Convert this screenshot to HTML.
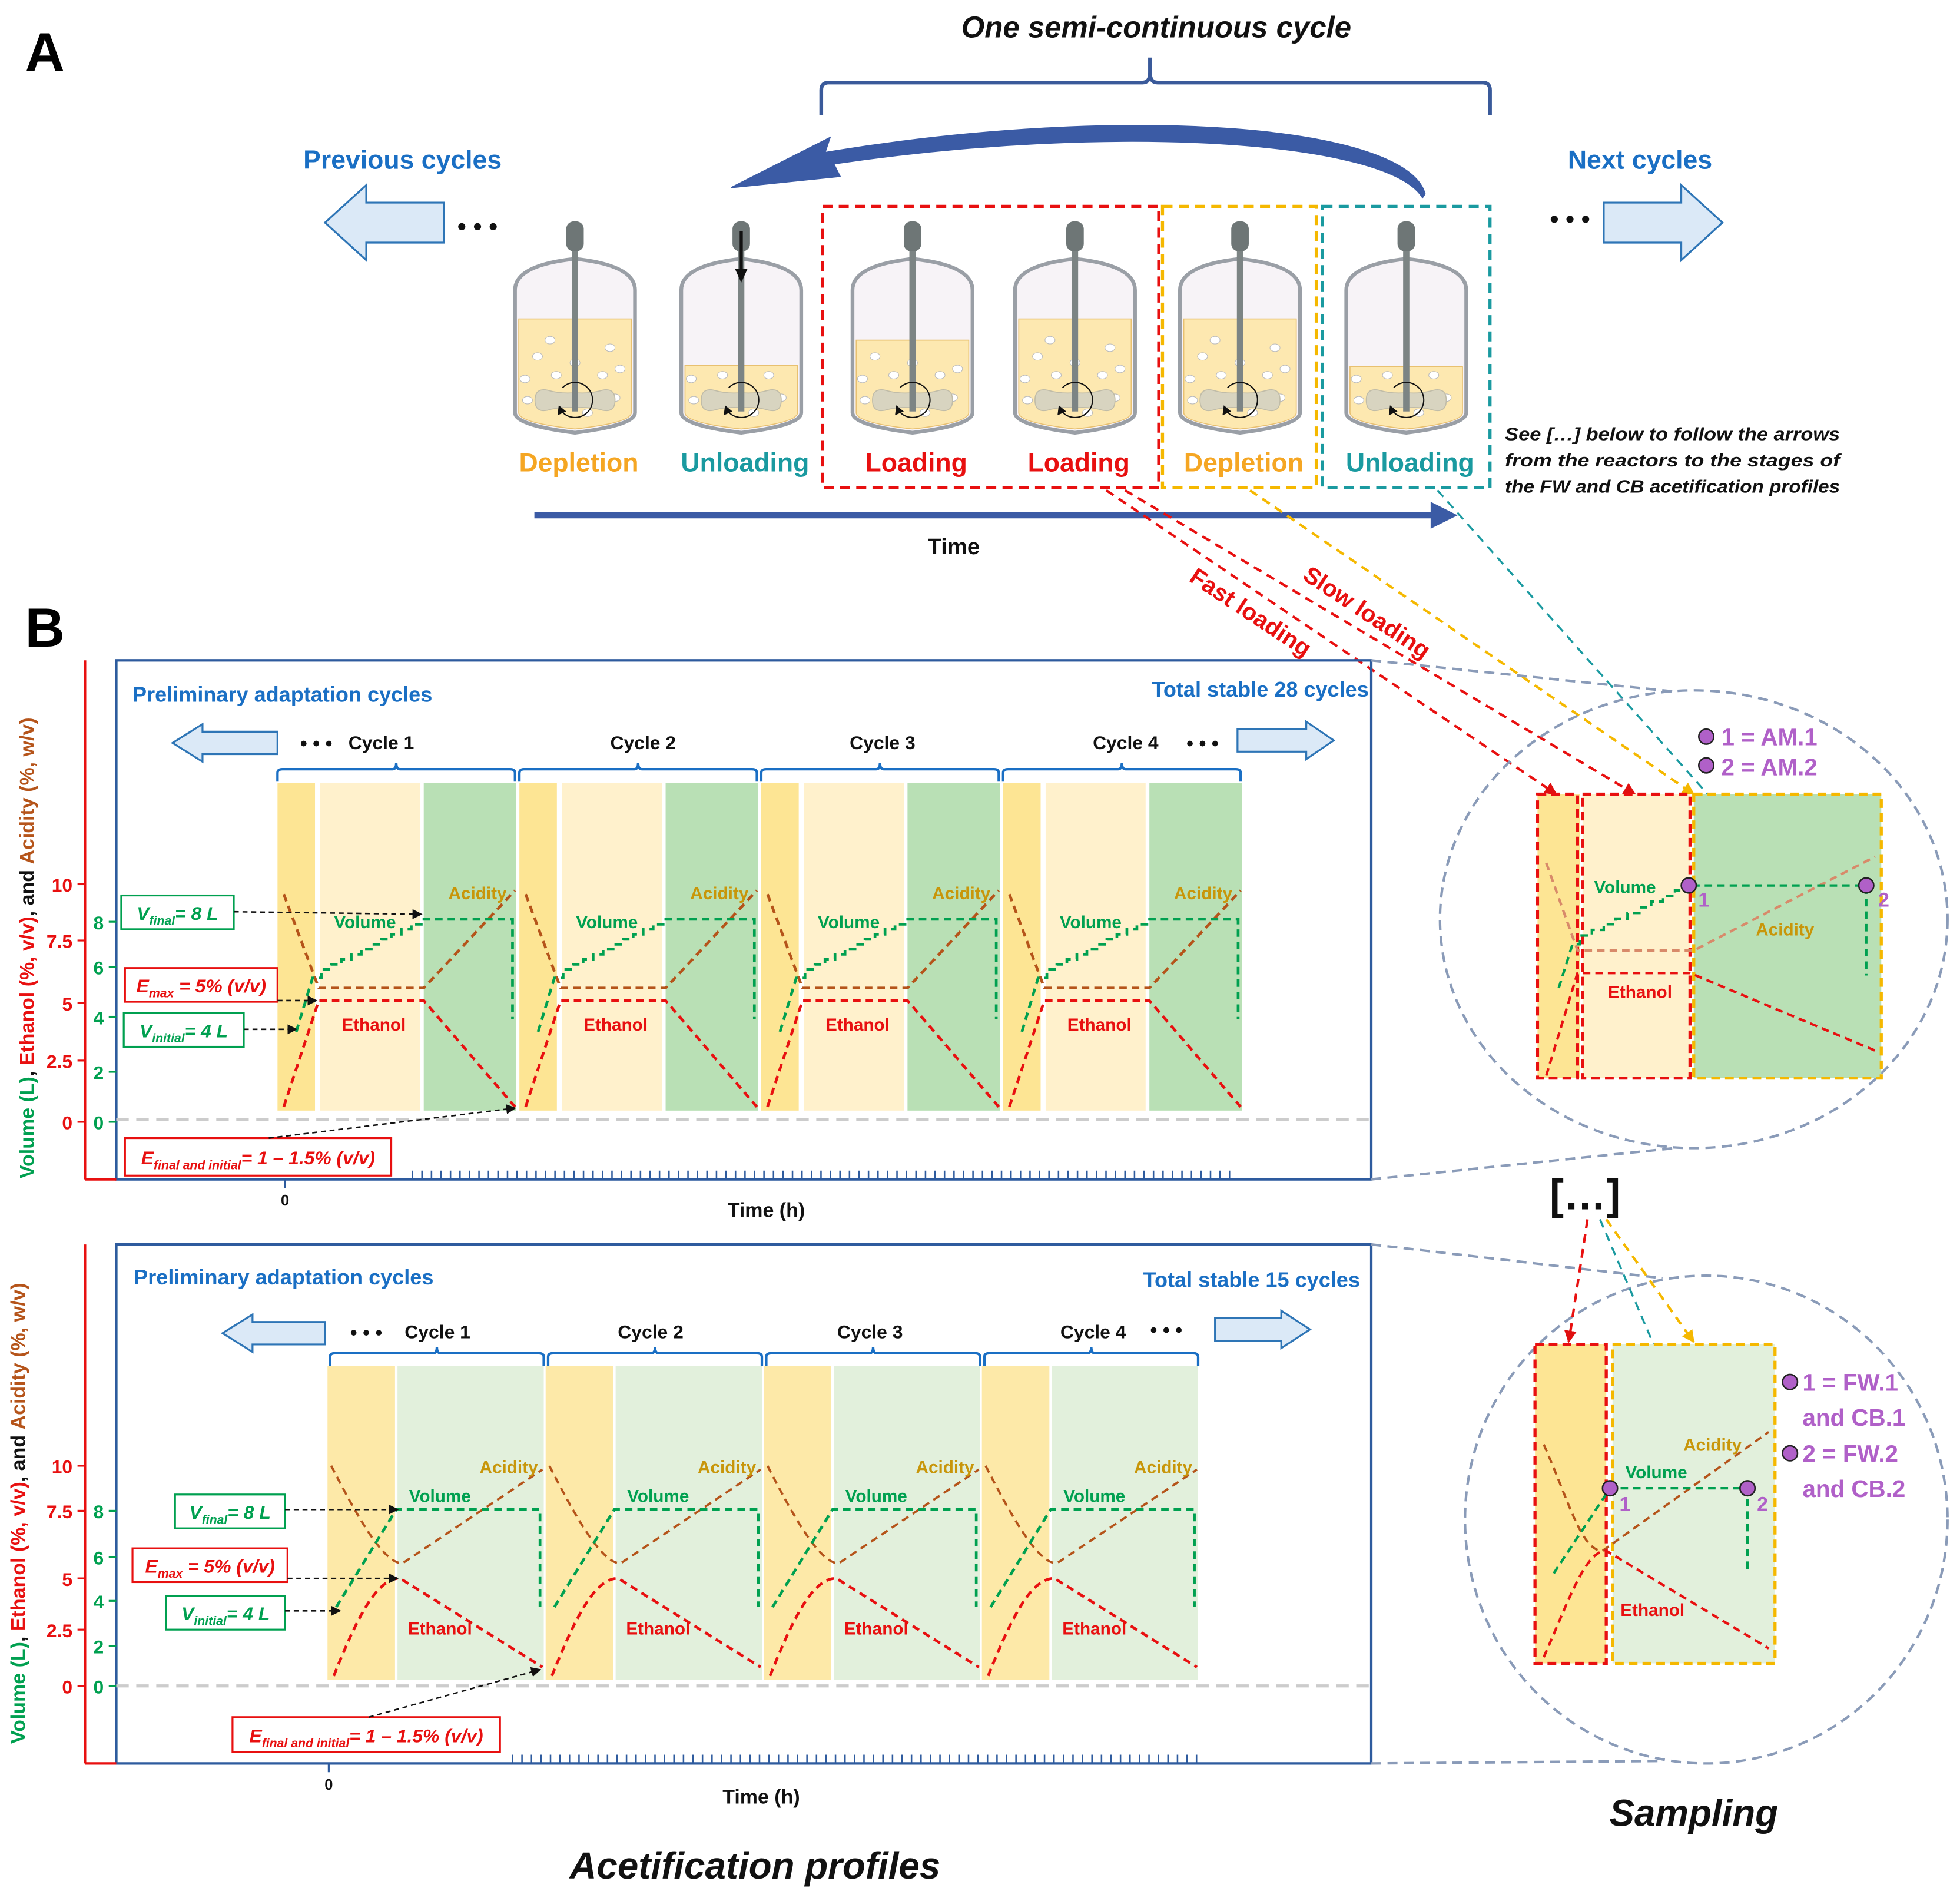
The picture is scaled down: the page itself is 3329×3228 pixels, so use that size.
<!DOCTYPE html>
<html><head><meta charset="utf-8"><style>
html,body{margin:0;padding:0;background:#fff}
svg{display:block}
text{font-family:"Liberation Sans","DejaVu Sans",sans-serif;font-weight:bold}
</style></head><body>
<svg id="s" xmlns="http://www.w3.org/2000/svg" width="3329" height="3228" viewBox="0 0 1568 1520" preserveAspectRatio="none">
<defs>
<marker id="ak" markerWidth="8" markerHeight="8" refX="7" refY="4" orient="auto" markerUnits="userSpaceOnUse"><path d="M0,0 L8,4 L0,8 Z" fill="#111"/></marker>
<marker id="ar" markerWidth="10" markerHeight="10" refX="9" refY="5" orient="auto" markerUnits="userSpaceOnUse"><path d="M0,0 L10,5 L0,10 Z" fill="#e01010"/></marker>
<marker id="ay" markerWidth="10" markerHeight="10" refX="9" refY="5" orient="auto" markerUnits="userSpaceOnUse"><path d="M0,0 L10,5 L0,10 Z" fill="#f5b800"/></marker>
<marker id="at" markerWidth="10" markerHeight="10" refX="9" refY="5" orient="auto" markerUnits="userSpaceOnUse"><path d="M0,0 L10,5 L0,10 Z" fill="#1aa0a8"/></marker>
</defs>
<rect width="1568" height="1520" fill="#fff"/>
<g id="g"></g>
</svg>
<script>
const g=document.getElementById('g');let h='';let labels='';
const A=s=>{h+=s};
function T(x,y,t,sz,fill,anchor,extra){A(`<text x="${x}" y="${y}" font-size="${sz}" fill="${fill}" text-anchor="${anchor||'start'}" ${extra||''}>${t}</text>`)}
function TL(x,y,t,sz,fill){labels+=`<text x="${x}" y="${y}" font-size="${sz}" fill="${fill}" text-anchor="middle">${t}</text>`}
function L(x1,y1,x2,y2,c,w,d,m){A(`<line x1="${x1}" y1="${y1}" x2="${x2}" y2="${y2}" stroke="${c}" stroke-width="${w}" ${d?`stroke-dasharray="${d}"`:''} ${m?`marker-end="url(#${m})"`:''}/>`)}
function P(d,c,w,dash,fill,extra){A(`<path d="${d}" stroke="${c}" stroke-width="${w}" fill="${fill||'none'}" ${dash?`stroke-dasharray="${dash}"`:''} ${extra||''}/>`)}
function R(x,y,w,ht,f,st,sw,dash){A(`<rect x="${x}" y="${y}" width="${w}" height="${ht}" fill="${f}" ${st?`stroke="${st}" stroke-width="${sw}"`:''} ${dash?`stroke-dasharray="${dash}"`:''}/>`)}
const BL='#1a6fc4',FR='#2e5b9e',GR='#00a050',RD='#e81010',BR='#b5541a',AC='#c8960a',OR='#f5a623',TE='#1a9aa0',PU='#b060c8';

// ===== A =====
T(20,57,'A',44,'#000');
T(925,30,'One semi-continuous cycle',24,'#111','middle','font-style="italic"');
P('M657,92 L657,72 Q657,66 663,66 L914,66 Q920,66 920,58 L920,46 L920,58 Q920,66 926,66 L1186,66 Q1192,66 1192,72 L1192,92','#3a5a9a',3);
P('M1140,155 C1125,100 900,82 660,122 L664,110 L585,150 L672,141 L667,131 C890,98 1110,112 1138,158 Z','#3b5ba5',1,null,'#3b5ba5');
T(322,135,'Previous cycles',21,BL,'middle');T(1312,135,'Next cycles',21,BL,'middle');
function bigArrow(tip,bodyEnd,yc,hh,bh,dir,headX){
 const by1=yc-bh,by2=yc+bh,hy1=yc-hh,hy2=yc+hh;
 A(`<path d="M${tip},${yc} L${headX},${hy1} L${headX},${by1} L${bodyEnd},${by1} L${bodyEnd},${by2} L${headX},${by2} L${headX},${hy2} Z" fill="#dbe9f7" stroke="#2e75b6" stroke-width="1.5"/>`)}
bigArrow(260,355,178,30,16,0,293);T(382,188,'• • •',20,'#111','middle');
bigArrow(1378,1283,178,30,16,0,1345);T(1256,182,'• • •',20,'#111','middle');
const rx=[460,593,730,860,992,1125],lv=[255,292,272,255,255,293];
const bub=[[-40,303],[-25,325],[-15,300],[-30,285],[0,290],[22,300],[32,318],[-38,320],[28,278],[-20,272],[10,330],[36,295]];
rx.forEach((cx,i)=>{
 const v=`M${cx-48},330 L${cx-48},232 Q${cx-48},212 ${cx},207 Q${cx+48},212 ${cx+48},232 L${cx+48},330 Q${cx+48},340 ${cx},346 Q${cx-48},340 ${cx-48},330 Z`;
 P(v,'#9a9fa6',3,null,'#f7f3f7');
 const l=lv[i];
 P(`M${cx-45},${l} L${cx+45},${l} L${cx+45},330 Q${cx+45},338 ${cx},343 Q${cx-45},338 ${cx-45},330 Z`,'#e8c070',0.8,null,'#fde8b0');
 bub.forEach(b=>{if(b[1]>l+6)A(`<ellipse cx="${cx+b[0]}" cy="${b[1]}" rx="4" ry="3" fill="#fff" stroke="#bbb" stroke-width="0.5"/>`)});
 A(`<path d="M${cx-32},320 q0,-10 10,-8 q10,3 22,2 q12,1 22,-2 q10,-2 10,8 q0,10 -10,8 q-10,-3 -22,-2 q-12,-1 -22,2 q-10,2 -10,-8 z" fill="#d8d4c0" stroke="#c0bca8" stroke-width="0.8"/>`);
 R(cx-2.5,199,5,130,'#7c8484');
 A(`<rect x="${cx-7}" y="177" width="14" height="24" rx="6" fill="#6e7676"/>`);
 P(`M${cx-12},327 A14,14 0 1,0 ${cx-10},310`,'#111',1);
 A(`<path d="M${cx-13},324 l-1,8 l7,-3 z" fill="#111"/>`);
 if(i==1){L(cx,185,cx,222,'#111',2.5);A(`<path d="M${cx-5},215 L${cx+5},215 L${cx},226 Z" fill="#111"/>`)}
});
const lab=[['Depletion',OR],['Unloading',TE],['Loading',RD],['Loading',RD],['Depletion',OR],['Unloading',TE]];
lab.forEach((t,i)=>T(rx[i]+3,377,t[0],21,t[1],'middle'));
R(658,165,269,225,'none',RD,2.5,'8,5');R(930,165,123,225,'none','#f5b800',2.5,'8,5');R(1058,165,134,225,'none',TE,2.5,'8,5');
P('M428,410 L1145,410 L1145,402 L1165,412 L1145,422 L1145,414 L428,414 Z','#3b5ba5',1,null,'#3b5ba5');
T(763,443,'Time',18,'#111','middle');
['See […] below to follow the arrows','from the reactors to the stages of','the FW and CB acetification profiles'].forEach((t,i)=>T(1204,352+i*21,t,14.5,'#111','start','font-style="italic" textLength="268" lengthAdjust="spacingAndGlyphs"'));
L(885,392,1245,635,RD,2,'7,5','ar');L(900,392,1308,635,RD,2,'7,5','ar');L(1000,392,1355,635,'#f5b800',2,'7,5','ay');L(1150,392,1495,780,TE,1.6,'7,5','at');
T(1090,495,'Slow loading',19,RD,'middle','transform="rotate(33.5 1090 495)"');
T(997,495,'Fast loading',19,RD,'middle','transform="rotate(33.5 997 495)"');
T(20,517,'B',44,'#000');

function axis(top,bot,rl,gl,titleY){
 L(68,top,68,bot,RD,2);L(93,top,93,bot,GR,2);R(93,top,1004,bot-top,'none',FR,2);L(68,bot,93,bot,RD,2);
 rl.forEach(a=>{L(62,a[1],68,a[1],RD,1.5);T(58,a[1]+6,a[0],15,RD,'end')});
 gl.forEach(a=>{L(87,a[1],93,a[1],GR,1.5);T(83,a[1]+6,a[0],15,GR,'end')});
 A(`<text transform="translate(${titleY[0]},${titleY[1]}) rotate(-90)" font-size="16" text-anchor="middle"><tspan fill="${GR}">Volume (L)</tspan><tspan fill="#111">, </tspan><tspan fill="${RD}">Ethanol (%, v/v)</tspan><tspan fill="#111">, and </tspan><tspan fill="${BR}">Acidity (%, w/v)</tspan></text>`);
}
function brace(x1,x2,y){const m=(x1+x2)/2;P(`M${x1},${y+10} L${x1},${y+3} Q${x1},${y} ${x1+4},${y} L${m-3},${y} Q${m},${y} ${m},${y-5} Q${m},${y} ${m+3},${y} L${x2-4},${y} Q${x2},${y} ${x2},${y+3} L${x2},${y+10}`,BL,2)}
function box(x,y,w,ht,c,html){R(x,y,w,ht,'#fff',c,1.5);A(`<text x="${x+w/2}" y="${y+ht/2+6}" font-size="15" fill="${c}" text-anchor="middle" font-style="italic">${html}</text>`)}
const sub=(a,b)=>`${a}<tspan font-size="10" dy="4">${b}</tspan><tspan dy="-4">`;

axis(528,943,[['10',707],['7.5',752],['5',802],['2.5',848],['0',897]],[['8',737],['6',773],['4',813],['2',857],['0',897]],[27,758]);
T(106,561,'Preliminary adaptation cycles',17,BL);T(1095,557,'Total stable 28 cycles',17,BL,'end');
bigArrow(138,222,594,15,9,0,162);bigArrow(1067,990,592,15,9,0,1045);
T(253,600,'• • •',16,'#111','middle');T(962,600,'• • •',16,'#111','middle');
const c1=[222,415.5,609,802.5];
c1.forEach((c,i)=>{
 brace(c,c+190,615);T(c+[83,99,97,98][i],599,'Cycle '+(i+1),15,'#111','middle');
 R(c,626,30,262,'#fde594');R(c+34,626,80,262,'#fff1cc');R(c+117,626,74,262,'#b9e0b5');
 P(`M${c+5},715 L${c+33},790 L${c+117},790 L${c+190},712`,BR,2.2,'6,4');
 P(`M${c+5},885 L${c+33},800 L${c+117},800 L${c+190},885`,RD,2.2,'6,4');
 let d=`M${c+15},825 L${c+28},782 L${c+35},782 L${c+35},775`;let x=c+35,y=775;
 for(let k=0;k<10;k++){x+=8;d+=` L${x},${y}`;y-=4;d+=` L${x},${y}`}
 d+=` L${c+117},735 L${c+188},735 L${c+188},815`;P(d,GR,2.2,'6,4');
 TL(c+70,742,'Volume',14,GR);TL(c+77,824,'Ethanol',14,RD);TL(c+160,719,'Acidity',14,AC);
});
L(93,895,1097,895,'#ccc',2.5,'10,6');
box(97,716,90,27,GR,sub('V','final')+'= 8 L</tspan>');L(187,729,337,731,'#111',1.2,'4,3','ak');
box(100,774,122,27,RD,sub('E','max')+' = 5% (v/v)</tspan>');L(222,800,253,800,'#111',1.2,'4,3','ak');
box(99,810,96,27,GR,sub('V','initial')+'= 4 L</tspan>');L(195,823,237,823,'#111',1.2,'4,3','ak');
box(100,910,213,30,RD,sub('E','final and initial')+'= 1 – 1.5% (v/v)</tspan>');L(215,910,412,886,'#111',1.2,'4,3','ak');
for(let x=330;x<=990;x+=7.6)L(x,936,x,943,FR,1.2);
L(228,943,228,950,FR,1.5);T(228,964,'0',12,'#111','middle');T(613,973,'Time (h)',16,'#111','middle');

axis(995,1410,[['10',1172],['7.5',1208],['5',1262],['2.5',1303],['0',1348]],[['8',1208],['6',1245],['4',1280],['2',1316],['0',1348]],[20,1210]);
T(107,1027,'Preliminary adaptation cycles',17,BL);T(1088,1029,'Total stable 15 cycles',17,BL,'end');
bigArrow(178,260,1066,15,9,0,202);bigArrow(1048,972,1063,15,9,0,1025);
T(293,1071,'• • •',16,'#111','middle');T(933,1069,'• • •',16,'#111','middle');
const c2=[262,436.5,611,785.5];
c2.forEach((c,i)=>{
 brace(c+2,c+173,1082);T(c+[88,84,85,89][i],1070,'Cycle '+(i+1),15,'#111','middle');
 R(c,1092,54,251,'#fde9a8');R(c+56,1092,117,251,'#e2f0dc');
 P(`M${c+3},1172 C${c+25},1215 ${c+45},1250 ${c+60},1250 L${c+172},1175`,BR,1.8,'6,4');
 P(`M${c+5},1340 C${c+25},1290 ${c+40},1262 ${c+58},1262 L${c+172},1333`,RD,2.2,'6,4');
 P(`M${c+7},1285 L${c+55},1207 L${c+170},1207 L${c+170},1285`,GR,2.2,'6,4');
 TL(c+90,1201,'Volume',14,GR);TL(c+90,1307,'Ethanol',14,RD);TL(c+145,1178,'Acidity',14,AC);
});
L(93,1348,1097,1348,'#ccc',2.5,'10,6');
box(140,1195,88,27,GR,sub('V','final')+'= 8 L</tspan>');L(228,1207,318,1207,'#111',1.2,'4,3','ak');
box(106,1238,124,27,RD,sub('E','max')+' = 5% (v/v)</tspan>');L(230,1262,318,1262,'#111',1.2,'4,3','ak');
box(133,1276,95,27,GR,sub('V','initial')+'= 4 L</tspan>');L(228,1288,272,1288,'#111',1.2,'4,3','ak');
box(186,1373,214,28,RD,sub('E','final and initial')+'= 1 – 1.5% (v/v)</tspan>');L(295,1373,432,1335,'#111',1.2,'4,3','ak');
for(let x=410;x<=958;x+=7.6)L(x,1403,x,1410,FR,1.2);
L(263,1410,263,1417,FR,1.5);T(263,1431,'0',12,'#111','middle');T(609,1442,'Time (h)',16,'#111','middle');
T(604,1502,'Acetification profiles',30,'#111','middle','font-style="italic"');

const GD='#8a9bb8';
A(`<ellipse cx="1355" cy="735" rx="203" ry="183" fill="none" stroke="${GD}" stroke-width="2" stroke-dasharray="8,5"/>`);
L(1097,528,1340,553,GD,2,'8,5');L(1097,943,1340,918,GD,2,'8,5');
R(1230,635,34,227,'#fde594');R(1266,635,86,227,'#fff1cc');R(1355,635,150,227,'#b9e0b5');
R(1230,635,32,227,'none',RD,2.5,'7,4');R(1266,635,86,227,'none',RD,2.5,'7,4');R(1355,635,150,227,'none','#f5b800',2.5,'7,4');
P('M1237,690 L1262,760 L1355,760 L1500,685','#d88a6a',2,'6,4');
P('M1237,860 L1262,778 L1352,778 L1500,840',RD,2,'6,4');
{let d='M1247,790 L1258,755 L1264,755 L1264,748';let x=1264,y=748;for(let k=0;k<9;k++){x+=9.5;d+=` L${x},${y}`;y-=4.5;d+=` L${x},${y}`}d+=' L1351,708 L1493,708 L1493,780';P(d,GR,2,'6,4');}
T(1300,714,'Volume',14,GR,'middle');T(1428,748,'Acidity',14,AC,'middle');T(1312,798,'Ethanol',14,RD,'middle');
A(`<circle cx="1351" cy="708" r="6" fill="${PU}" stroke="#222" stroke-width="1.2"/><circle cx="1493" cy="708" r="6" fill="${PU}" stroke="#222" stroke-width="1.2"/>`);
T(1363,725,'1',16,PU,'middle');T(1507,725,'2',16,PU,'middle');
A(`<circle cx="1365" cy="589" r="6" fill="${PU}" stroke="#222" stroke-width="1.2"/><circle cx="1365" cy="612" r="6" fill="${PU}" stroke="#222" stroke-width="1.2"/>`);
T(1377,596,'1 = AM.1',19,PU);T(1377,620,'2 = AM.2',19,PU);
T(1268,967,'[…]',34,'#111','middle');
A(`<ellipse cx="1365" cy="1215" rx="193" ry="195" fill="none" stroke="${GD}" stroke-width="2" stroke-dasharray="8,5"/>`);
L(1097,995,1330,1022,GD,2,'8,5');L(1097,1410,1330,1408,GD,2,'8,5');
L(1270,975,1255,1073,RD,2,'7,5','ar');L(1285,975,1355,1073,'#f5b800',2,'7,5','ay');L(1280,975,1400,1255,TE,1.6,'7,5','at');
R(1228,1075,57,255,'#fde594');R(1290,1075,130,255,'#e2f0dc');
R(1228,1075,57,255,'none',RD,2.5,'7,4');R(1290,1075,130,255,'none','#f5b800',2.5,'7,4');
P('M1235,1155 C1255,1200 1265,1240 1282,1240 L1415,1145',BR,1.8,'6,4');
P('M1235,1325 C1255,1280 1268,1240 1285,1240 L1415,1318',RD,2,'6,4');
P('M1243,1258 L1288,1190 L1398,1190 L1398,1255',GR,2,'6,4');
T(1325,1182,'Volume',14,GR,'middle');T(1370,1160,'Acidity',14,AC,'middle');T(1322,1292,'Ethanol',14,RD,'middle');
A(`<circle cx="1288" cy="1190" r="6" fill="${PU}" stroke="#222" stroke-width="1.2"/><circle cx="1398" cy="1190" r="6" fill="${PU}" stroke="#222" stroke-width="1.2"/>`);
T(1300,1208,'1',16,PU,'middle');T(1410,1208,'2',16,PU,'middle');
A(`<circle cx="1432" cy="1105" r="6" fill="${PU}" stroke="#222" stroke-width="1.2"/><circle cx="1432" cy="1162" r="6" fill="${PU}" stroke="#222" stroke-width="1.2"/>`);
T(1442,1112,'1 = FW.1',19,PU);T(1442,1140,'and CB.1',19,PU);T(1442,1169,'2 = FW.2',19,PU);T(1442,1197,'and CB.2',19,PU);
T(1355,1460,'Sampling',30,'#111','middle','font-style="italic"');
g.innerHTML=h+labels;
</script>
</body></html>
